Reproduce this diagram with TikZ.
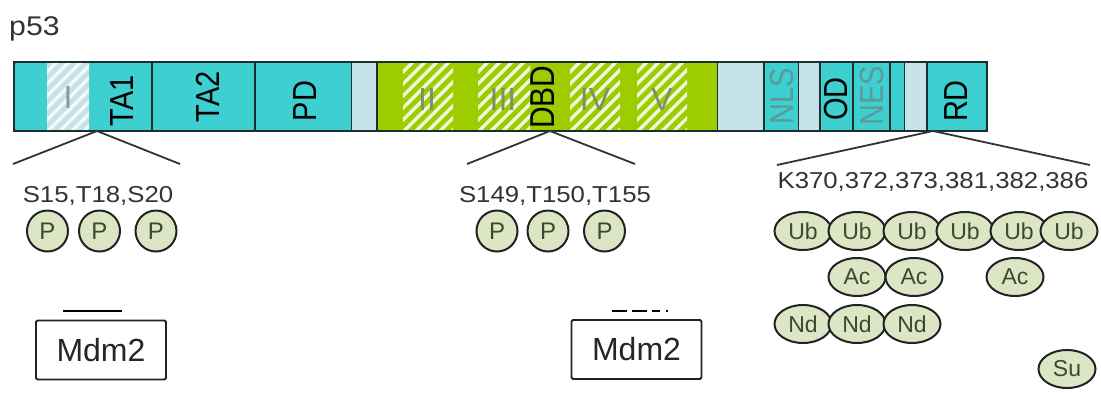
\documentclass[tikz,border=0pt]{standalone}
\usepackage{fontspec}
\setmainfont{Liberation Sans}
\usetikzlibrary{shapes.geometric}
\definecolor{cy}{HTML}{3ECFD0}
\definecolor{lb}{HTML}{C5E3E8}
\definecolor{gr}{HTML}{9DCC00}
\definecolor{bdc}{HTML}{1E2E2E}
\definecolor{txt}{HTML}{333333}
\definecolor{modf}{HTML}{DCE6C4}
\definecolor{modb}{HTML}{222222}
\definecolor{modt}{HTML}{3B4A2E}
\definecolor{romg}{HTML}{7F8F6A}
\definecolor{roml}{HTML}{8A9AA0}
\definecolor{tealt}{HTML}{5A9A9A}
\newcommand{\hatchbox}[3]{%
  \begin{scope}
    \clip (#1,62) rectangle (#2,131);
    \fill[#3] (#1,62) rectangle (#2,131);
    \foreach \k in {-80,-68,...,60}{\draw[white, opacity=0.85, line width=3.2pt] ({#1+\k},140) -- ++(90,-90);}
  \end{scope}}
\begin{document}
\begin{tikzpicture}[x=1pt,y=-1pt,
  bd/.style={draw=bdc, line width=1.8pt},
  rl/.style={xscale=1.15, rotate=90, font=\fontsize{29}{31}\selectfont, inner sep=0},
  num/.style={xscale=1.12, font=\fontsize{23}{26}\selectfont, text=txt, inner sep=0},
  rom/.style={font=\fontsize{32}{34}\selectfont, inner sep=0},
  mod/.style={ellipse, draw=modb, line width=2pt, fill=modf, minimum width=57pt, minimum height=38pt, inner sep=0, font=\fontsize{23}{25}\selectfont, text=modt},
  pc/.style={mod, minimum width=41pt, minimum height=41pt, font=\fontsize{24}{26}\selectfont},
  conn/.style={draw=txt, line width=1.8pt},
  mdm/.style={draw=modb, line width=1.8pt, rounded corners=1.5pt, minimum width=130pt, minimum height=59pt, inner sep=0, font=\fontsize{32}{34}\selectfont, text=black!85}
]
\useasboundingbox (0,0) rectangle (1101,392);
\fill[white] (0,0) rectangle (1101,392);
% title
\node[anchor=base west, inner sep=0, xscale=1.12, font=\fontsize{27}{30}\selectfont, text=txt] (title) at (9,35) {p53};
% bar
\fill[cy] (14,62) rectangle (152,131);
\hatchbox{47}{89}{lb}
\draw[bd] (14,62) rectangle (152,131);
\fill[cy] (152,62) rectangle (255,131); \draw[bd] (152,62) rectangle (255,131);
\fill[cy] (255,62) rectangle (352,131); \draw[bd] (255,62) rectangle (352,131);
\fill[lb] (352,62) rectangle (377,131);
\fill[gr] (377,62) rectangle (718,131);
\hatchbox{403}{453}{gr}
\hatchbox{478}{530}{gr}
\hatchbox{570}{620}{gr}
\hatchbox{637}{687}{gr}
\draw[bd] (377,62) rectangle (718,131);
\fill[lb] (718,62) rectangle (764,131);
\fill[cy] (764,62) rectangle (799,131); \draw[bd] (764,62) rectangle (799,131);
\fill[lb] (799,62) rectangle (820,131);
\fill[cy] (820,62) rectangle (853,131); \draw[bd] (820,62) rectangle (853,131);
\fill[cy] (853,62) rectangle (890,131); \draw[bd] (853,62) rectangle (890,131);
\fill[cy] (890,62) rectangle (905,131); \draw[bd] (890,62) rectangle (905,131);
\fill[lb] (905,62) rectangle (927,131);
\fill[cy] (927,62) rectangle (987,131); \draw[bd] (927,62) rectangle (987,131);
\draw[bd, rounded corners=2pt] (14,62) rectangle (987,131);
% bar labels
\node[rom, text=roml] (rI) at (68,97) {I};
\node[rl] (ta1) at (122,101) {TA1};
\node[rl] (ta2) at (208,97) {TA2};
\node[rl] (pd) at (305,101) {PD};
\node[rom, text=romg] (rII) at (427,99) {II};
\node[rom, text=romg] (rIII) at (503,99) {III};
\node[rom, text=romg] (rIV) at (595,99) {IV};
\node[rom, text=romg] (rV) at (662,99) {V};
\node[rl, font=\fontsize{30}{32}\selectfont] (dbd) at (543,97) {DBD};
\node[rl, text=tealt] (nls) at (782,96) {NLS};
\node[rl] (od) at (836,99) {OD};
\node[rl, text=tealt] (nes) at (872,96) {NES};
\node[rl] (rd) at (956,101) {RD};
% connectors
\coordinate (a1) at (97,131); \coordinate (l1) at (13,164); \coordinate (r1) at (180,164);
\coordinate (a2) at (550,131); \coordinate (l2) at (467,164); \coordinate (r2) at (635,164);
\coordinate (a3) at (933,131); \coordinate (l3) at (777,165); \coordinate (r3) at (1090,165);
\draw[conn] (l1) -- (a1) -- (r1);
\draw[conn] (l2) -- (a2) -- (r2);
\draw[conn] (l3) -- (a3) -- (r3);
% site labels
\node[num, anchor=base] (s1) at (98,202) {S15,T18,S20};
\node[num, anchor=base] (s2) at (555,202) {S149,T150,T155};
\node[num, anchor=base] (s3) at (933,188) {K370,372,373,381,382,386};
% phospho
\node[pc] (p1) at (47.5,231) {P};
\node[pc] (p2) at (99.5,231) {P};
\node[pc] (p3) at (156,231) {P};
\node[pc] (p4) at (497,231) {P};
\node[pc] (p5) at (548,231) {P};
\node[pc] (p6) at (604.5,231) {P};
% Ub
\node[mod] (u1) at (803,231) {Ub};
\node[mod] (u2) at (857,231) {Ub};
\node[mod] (u3) at (912,231) {Ub};
\node[mod] (u4) at (965,231) {Ub};
\node[mod] (u5) at (1019,231) {Ub};
\node[mod] (u6) at (1069,231) {Ub};
\node[mod] (ac1) at (857,277) {Ac};
\node[mod] (ac2) at (914,277) {Ac};
\node[mod] (ac3) at (1015,277) {Ac};
\node[mod] (nd1) at (803,324) {Nd};
\node[mod] (nd2) at (857,324) {Nd};
\node[mod] (nd3) at (912,324) {Nd};
\node[mod] (su) at (1067,369) {Su};
% Mdm2
\node[mdm] (m1) at (101,350) {Mdm2};
\node[mdm] (m2) at (636.5,349.5) {Mdm2};
\coordinate (b1l) at (63,311); \coordinate (b1r) at (122,311);
\coordinate (b2l) at (612,311); \coordinate (b2r) at (671,311);
\draw[line width=2.2pt, draw=black] (b1l) -- (b1r);
\draw[line width=2.2pt, draw=black, dash pattern=on 15pt off 5pt on 15pt off 5pt on 8pt off 6pt on 2pt off 20pt] (b2l) -- (b2r);
\end{tikzpicture}
\end{document}
